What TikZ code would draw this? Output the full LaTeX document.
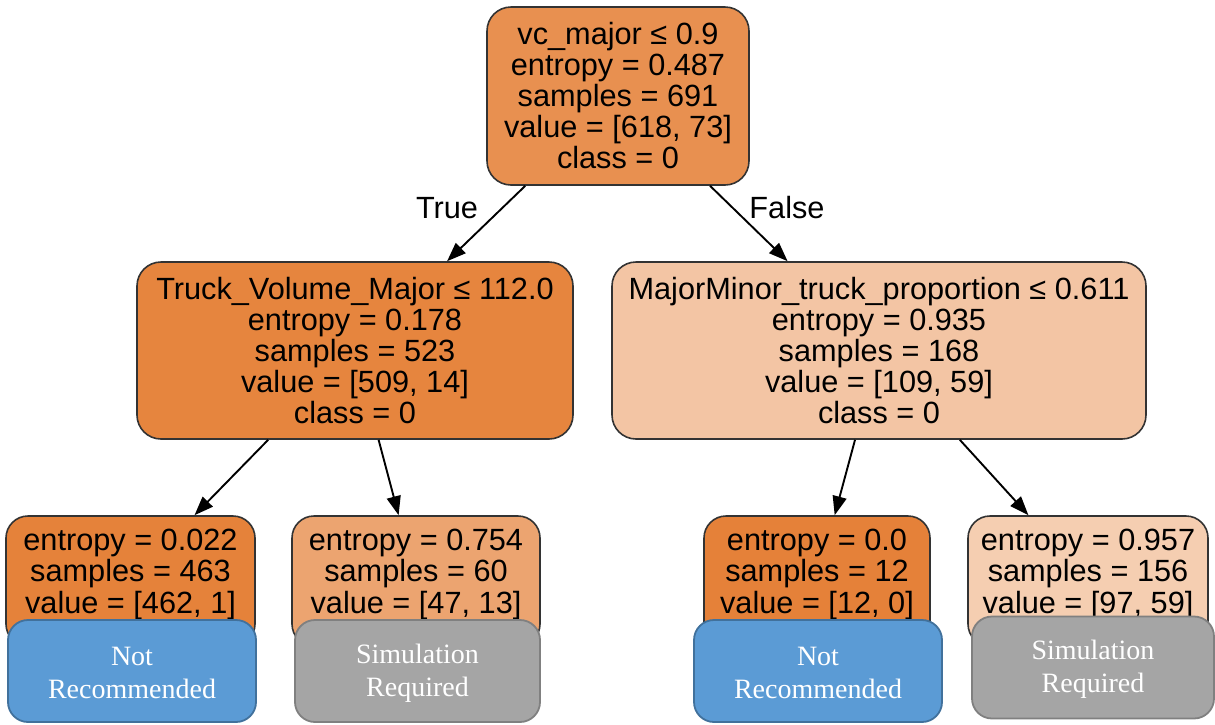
\documentclass[tikz,border=0pt]{standalone}
\usepackage{fontspec}
\setmainfont{Liberation Sans}
\newfontfamily\labelserif{Liberation Serif}
\usetikzlibrary{arrows.meta}

% node fill colours (class 0 orange, shaded by purity)
\definecolor{nRoot}{RGB}{232,144,80}
\definecolor{nTruck}{RGB}{230,133,62}
\definecolor{nMM}{RGB}{243,197,164}
\definecolor{nLa}{RGB}{229,130,58}
\definecolor{nLb}{RGB}{236,164,112}
\definecolor{nLc}{RGB}{229,129,57}
\definecolor{nLd}{RGB}{245,206,177}
\definecolor{nodeline}{RGB}{51,51,51}
\definecolor{recFill}{RGB}{91,155,213}
\definecolor{recLine}{RGB}{65,113,156}
\definecolor{simFill}{RGB}{165,165,165}
\definecolor{simLine}{RGB}{128,128,128}

\tikzset{
  treenode/.style={draw=nodeline, line width=1.6pt, rounded corners=24pt,
    align=center, inner sep=0pt,
    font=\fontsize{30.7}{31}\selectfont},
  leafbox/.style={draw=nodeline, line width=1.6pt, rounded corners=22pt,
    inner sep=0pt},
  leaftext/.style={align=center, inner sep=0pt,
    font=\fontsize{30.7}{31.5}\selectfont},
  verdict/.style={line width=1.8pt, rounded corners=20pt, align=center,
    inner sep=0pt, minimum height=102pt, text=white,
    font=\labelserif\fontsize{28}{33}\selectfont},
  notrec/.style={verdict, fill=recFill, draw=recLine},
  simreq/.style={verdict, fill=simFill, draw=simLine},
  branch/.style={line width=1.9pt, -{Triangle[length=19pt,width=14pt]}},
  branchlabel/.style={font=\fontsize{30.7}{31}\selectfont, inner sep=0pt}
}

\begin{document}
\begin{tikzpicture}[x=1pt, y=-1pt]
\useasboundingbox (0,0) rectangle (1215,724);

% split nodes
\node[treenode, fill=nRoot, minimum width=262pt, minimum height=178pt]
  (root) at (618,96)
  {vc\_major ≤ 0.9\\ entropy = 0.487\\ samples = 691\\ value = [618, 73]\\ class = 0};
\node[treenode, fill=nTruck, minimum width=436pt, minimum height=177pt]
  (truck) at (355,350.5)
  {Truck\_Volume\_Major ≤ 112.0\\ entropy = 0.178\\ samples = 523\\ value = [509, 14]\\ class = 0};
\node[treenode, fill=nMM, minimum width=534pt, minimum height=177pt]
  (mm) at (879,350.5)
  {MajorMinor\_truck\_proportion ≤ 0.611\\ entropy = 0.935\\ samples = 168\\ value = [109, 59]\\ class = 0};

% leaves
\node[leafbox, fill=nLa, minimum width=249pt, minimum height=130pt] (la) at (130.5,581) {};
\node[leafbox, fill=nLb, minimum width=248pt, minimum height=130pt] (lb) at (416,581) {};
\node[leafbox, fill=nLc, minimum width=226pt, minimum height=130pt] (lc) at (817,581) {};
\node[leafbox, fill=nLd, minimum width=240pt, minimum height=130pt] (ld) at (1088,581) {};

\node[leaftext] (lat) at (130.5,574) {entropy = 0.022\\ samples = 463\\ value = [462, 1]};
\node[leaftext] (lbt) at (416,574) {entropy = 0.754\\ samples = 60\\ value = [47, 13]};
\node[leaftext] (lct) at (817,574) {entropy = 0.0\\ samples = 12\\ value = [12, 0]};
\node[leaftext] (ldt) at (1088,574) {entropy = 0.957\\ samples = 156\\ value = [97, 59]};

% branches
\draw[branch] (root) -- (truck);
\draw[branch] (root) -- (mm);
\draw[branch] (truck) -- (la);
\draw[branch] (truck) -- (lb);
\draw[branch] (mm) -- (lc);
\draw[branch] (mm) -- (ld);

\node[branchlabel] (tl) at (447,208) {True};
\node[branchlabel] (fl) at (787,208) {False};

% verdict boxes
\node[notrec, minimum width=248pt] (va) at (132,671) {\strut Not\\ Recommended};
\node[simreq, minimum width=245pt] (vb) at (417.5,671) {\strut Simulation\\ Required};
\node[notrec, minimum width=248pt] (vc) at (818,671) {\strut Not\\ Recommended};
\node[simreq, minimum width=242pt] (vd) at (1093,667.5) {\strut Simulation\\ Required};
\end{tikzpicture}
\end{document}
